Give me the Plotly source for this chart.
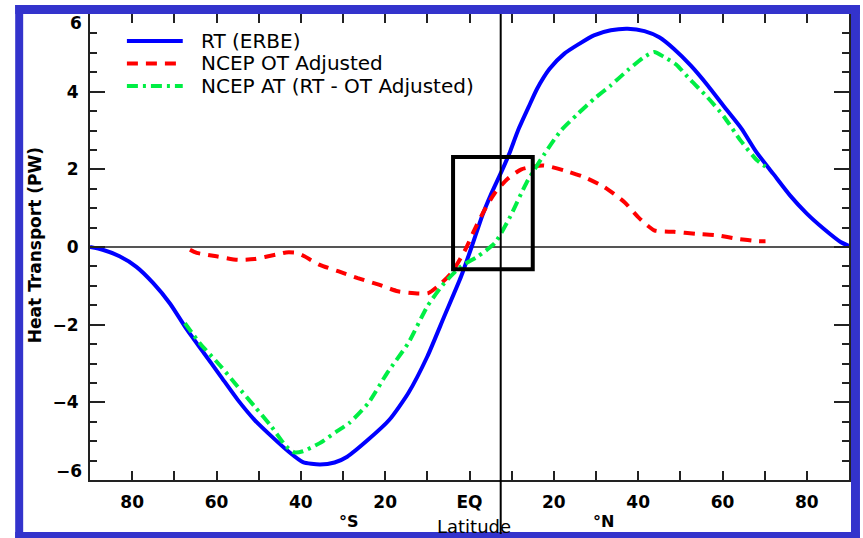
import plotly.graph_objects as go

# ---------------- data ----------------
rt_lat = [-90, -87, -83, -79, -75, -71, -67, -63, -59, -55, -51, -47, -43, -39.5, -35.5,
          -32, -29, -24, -19, -14.5, -10, -6, -2, 0.5, 3, 5, 7.5, 9.5, 11.5, 14, 16, 19,
          22.5, 26, 29.5, 33.5, 37.5, 41.5, 45, 48.5, 52.5, 56.5, 60.5, 64.5, 68, 72, 76,
          80, 84, 88, 90]
rt_val = [0, -0.07, -0.24, -0.51, -0.93, -1.46, -2.13, -2.73, -3.33, -3.93, -4.45, -4.87,
          -5.26, -5.54, -5.6, -5.55, -5.4, -4.96, -4.45, -3.76, -2.82, -1.79, -0.76, 0.0,
          0.8, 1.33, 1.92, 2.42, 3.0, 3.6, 4.07, 4.59, 4.98, 5.23, 5.45, 5.58, 5.62, 5.56,
          5.4, 5.1, 4.67, 4.16, 3.6, 3.05, 2.45, 1.89, 1.33, 0.86, 0.47, 0.13, 0.03]

ot_lat = [-66.3, -64.7, -60, -55, -51, -46, -43.5, -41, -39.5, -35.5, -31, -26.5, -21.5,
          -17, -12, -9.8, -7.5, -4.3, -1, 1.2, 3.6, 6, 9, 12.3, 17.5, 22.5, 27.2, 32, 36.7,
          40, 43.8, 48.5, 53.6, 58.8, 63.5, 68.6, 70.2]
ot_val = [-0.07, -0.15, -0.24, -0.33, -0.31, -0.2, -0.14, -0.15, -0.22, -0.46, -0.63, -0.8,
          -0.97, -1.14, -1.2, -1.19, -1.01, -0.67, -0.07, 0.45, 0.96, 1.39, 1.75, 2.0, 2.1,
          1.97, 1.8, 1.54, 1.16, 0.77, 0.43, 0.39, 0.34, 0.3, 0.21, 0.15, 0.15]

at_lat = [-67.5, -64, -59, -55, -51, -47, -43.5, -41.5, -39.5, -35.5, -31.5, -28.5, -24,
          -19.5, -14.5, -10, -6, -2, 2, 6, 9.5, 13.5, 17.8, 21.7, 25.7, 29.6, 33.5, 37.5,
          41.4, 43.8, 46.2, 49, 52.5, 56.4, 60.4, 64.3, 68.2, 70.2]
at_val = [-1.96, -2.47, -3.07, -3.59, -4.1, -4.62, -5.13, -5.29, -5.26, -5.05, -4.75, -4.53,
          -4.02, -3.24, -2.47, -1.53, -0.93, -0.5, -0.24, 0.1, 0.75, 1.65, 2.4, 3.0, 3.43,
          3.82, 4.16, 4.55, 4.89, 5.02, 4.89, 4.7, 4.29, 3.86, 3.35, 2.74, 2.23, 2.07]

series_names = ["RT (ERBE)", "NCEP OT Adjusted", "NCEP AT (RT - OT Adjusted)"]
series_colors = ["#0000FF", "#FF0000", "#00EE44"]
series_dash = ["solid", "11px,8px", "11px,5px,3px,5px"]

x_tickvals = [-80, -60, -40, -20, 0, 20, 40, 60, 80]
x_ticktext = ["80", "60", "40", "20", "EQ", "20", "40", "60", "80"]
y_tickvals = [-6, -4, -2, 0, 2, 4, 6]
y_ticktext = ["", "\u22124", "\u22122", "0", "2", "4", ""]
y_end_labels = [(6, "6"), (-6, "\u22126")]

# highlighted box and marker line (in data units)
box_x = (-3.9, 15.0)
box_y = (-0.57, 2.32)
marker_lat = 7.4

# ---------------- figure ----------------
W, H = 863, 538
L, R, T, B = 90, 12, 14, 58
PW, PH = W - L - R, H - T - B


def px(x):
    return (x - L) / PW


def py(y):
    return (H - B - y) / PH


FONT = "DejaVu Sans"

fig = go.Figure()
for lat, val, name, col, dash in zip([rt_lat, ot_lat, at_lat], [rt_val, ot_val, at_val],
                                     series_names, series_colors, series_dash):
    fig.add_trace(go.Scatter(x=lat, y=val, name=name, mode="lines", showlegend=False,
                             line=dict(color=col, width=4, dash=dash,
                                       shape="spline", smoothing=0.6)))

shapes = []
annotations = []

# legend (drawn as key lines + labels)
legend_rows_y = [41, 63.5, 86]
for ry, name, col, dash in zip(legend_rows_y, series_names, series_colors, series_dash):
    shapes.append(dict(type="line", xref="paper", yref="paper", x0=px(127), x1=px(183),
                       y0=py(ry), y1=py(ry), line=dict(color=col, width=4, dash=dash)))
    annotations.append(dict(x=px(199), xref="paper", y=py(ry), yref="paper", text=name,
                            showarrow=False, xanchor="left", yanchor="middle",
                            font=dict(family=FONT, size=20, color="black")))

# blue frame around the picture
blue = "#3333CC"
for (x0, x1, y0, y1) in [(15, 862, 5, 14), (15, 862, 532, 538), (15, 23, 5, 538), (853, 862, 5, 538)]:
    shapes.append(dict(type="rect", xref="paper", yref="paper", x0=px(x0), x1=px(x1),
                       y0=py(y1), y1=py(y0), fillcolor=blue, line=dict(width=0), layer="above"))
# vertical marker line
shapes.append(dict(type="line", xref="x", yref="paper", x0=marker_lat, x1=marker_lat,
                   y0=py(534), y1=1, line=dict(color="black", width=2)))
# highlight box
shapes.append(dict(type="rect", xref="x", yref="y", x0=box_x[0], x1=box_x[1],
                   y0=box_y[0], y1=box_y[1], line=dict(color="black", width=4)))

for val, txt in y_end_labels:
    annotations.append(dict(x=0, xref="paper", y=val, yref="y", text=txt, showarrow=False,
                            xanchor="right", yanchor="middle", xshift=-6,
                            yshift=-9 if val > 0 else 9,
                            font=dict(family=FONT, size=17, color="black", weight="bold")))
annotations.append(dict(x=px(35), xref="paper", y=py(245), yref="paper",
                        text="Heat Transport (PW)", textangle=-90, showarrow=False,
                        xanchor="center", yanchor="middle",
                        font=dict(family=FONT, size=17, color="black", weight="bold")))
annotations.append(dict(x=px(350), xref="paper", y=py(521), yref="paper", text="°S",
                        showarrow=False, xanchor="center", yanchor="middle",
                        font=dict(family=FONT, size=16, color="black", weight="bold")))
annotations.append(dict(x=px(605), xref="paper", y=py(521), yref="paper", text="°N",
                        showarrow=False, xanchor="center", yanchor="middle",
                        font=dict(family=FONT, size=16, color="black", weight="bold")))
annotations.append(dict(x=px(475), xref="paper", y=py(526), yref="paper", text="Latitude",
                        showarrow=False, xanchor="center", yanchor="middle",
                        font=dict(family=FONT, size=18, color="black")))

fig.update_layout(
    width=W, height=H,
    margin=dict(l=L, r=R, t=T, b=B),
    paper_bgcolor="white", plot_bgcolor="white",
    showlegend=False,
    shapes=shapes, annotations=annotations,
    xaxis=dict(range=[-90, 90], tickmode="array", tickvals=x_tickvals, ticktext=x_ticktext,
               ticks="inside", ticklen=9, tickwidth=2, tickcolor="#222",
               minor=dict(tickmode="array", tickvals=list(range(-90, 91, 10)), ticks="inside",
                          ticklen=9, tickwidth=2, tickcolor="#222"),
               showline=True, linewidth=2, linecolor="#222", mirror="ticks",
               showgrid=False, zeroline=False, ticklabelstandoff=6,
               tickfont=dict(family=FONT, size=17, color="black", weight="bold")),
    yaxis=dict(range=[-6, 6], tickmode="array", tickvals=y_tickvals, ticktext=y_ticktext,
               ticks="inside", ticklen=15, tickwidth=2, tickcolor="#222",
               minor=dict(dtick=0.5, ticks="inside", ticklen=7, tickwidth=2, tickcolor="#222"),
               showline=True, linewidth=2, linecolor="#222", mirror="ticks",
               showgrid=False, zeroline=True, zerolinecolor="#555", zerolinewidth=2,
               ticklabelstandoff=6,
               tickfont=dict(family=FONT, size=17, color="black", weight="bold")),
)

fig.write_html("out.html")
